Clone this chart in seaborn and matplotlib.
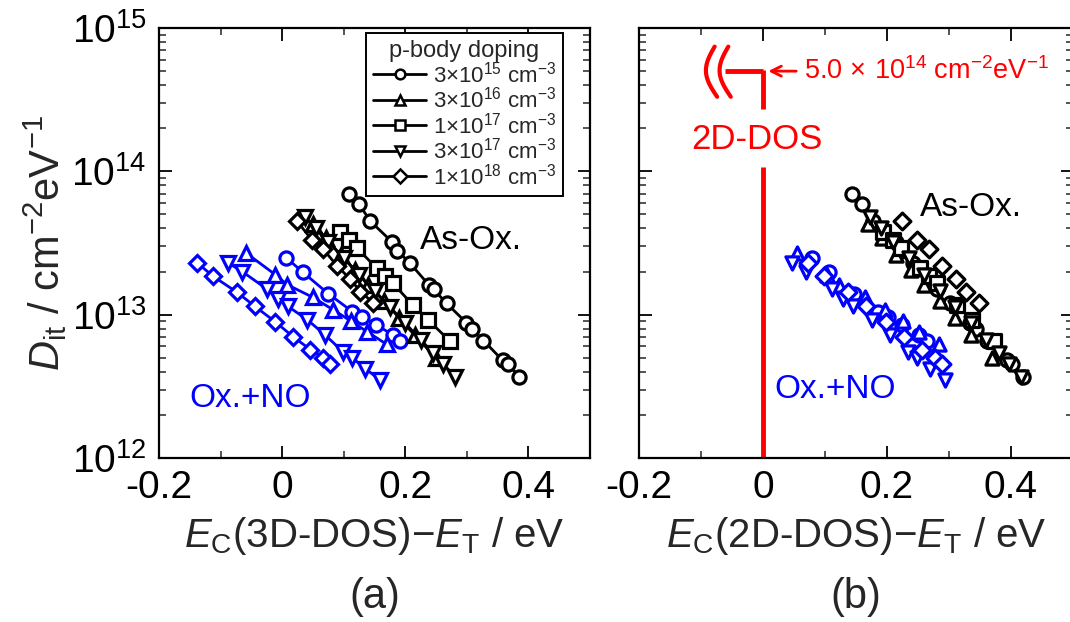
import numpy as np
import pandas as pd
import matplotlib.pyplot as plt
import seaborn as sns
from matplotlib.lines import Line2D

sns.set_theme(style='ticks')
plt.rcParams['font.family'] = ['Liberation Sans', 'DejaVu Sans']
plt.rcParams['mathtext.fontset'] = 'custom'
plt.rcParams['mathtext.rm'] = 'Liberation Sans'
plt.rcParams['mathtext.it'] = 'Liberation Sans:italic'
plt.rcParams['mathtext.bf'] = 'Liberation Sans:bold'

# p-body doping series (legend order)
doping_labels = [r'3$\times$10$^{15}$ cm$^{-3}$', r'3$\times$10$^{16}$ cm$^{-3}$',
                 r'1$\times$10$^{17}$ cm$^{-3}$', r'3$\times$10$^{17}$ cm$^{-3}$',
                 r'1$\times$10$^{18}$ cm$^{-3}$']
doping_markers = ['o', '^', 's', 'v', 'D']

# As-Ox. : E_C(3D-DOS)-E_T [eV] and Dit [cm-2 eV-1]
asox_3e15_x = [0.109, 0.125, 0.143, 0.179, 0.187, 0.207, 0.239, 0.246, 0.267, 0.299, 0.309, 0.327, 0.358, 0.367, 0.385]
asox_3e15_d = [6.9e13, 5.9e13, 4.5e13, 3.2e13, 2.8e13, 2.3e13, 1.6e13, 1.5e13, 1.2e13, 8.8e12, 7.9e12, 6.6e12, 4.8e12, 4.5e12, 3.7e12]
asox_3e16_x = [0.050, 0.072, 0.095, 0.118, 0.140, 0.165, 0.190, 0.215, 0.250]
asox_3e16_d = [4.3e13, 3.4e13, 2.6e13, 2.05e13, 1.6e13, 1.25e13, 9.5e12, 7.2e12, 5.0e12]
asox_1e17_x = [0.094, 0.109, 0.122, 0.154, 0.167, 0.180, 0.213, 0.237, 0.273]
asox_1e17_d = [3.8e13, 3.3e13, 2.9e13, 2.1e13, 1.87e13, 1.65e13, 1.16e13, 9.2e12, 6.5e12]
asox_3e17_x = [0.037, 0.055, 0.075, 0.100, 0.125, 0.150, 0.175, 0.200, 0.225, 0.245, 0.262, 0.281]
asox_3e17_d = [4.8e13, 4.0e13, 3.2e13, 2.5e13, 1.9e13, 1.47e13, 1.13e13, 8.7e12, 6.7e12, 5.4e12, 4.5e12, 3.7e12]
asox_1e18_x = [0.024, 0.049, 0.067, 0.089, 0.111, 0.127, 0.148]
asox_1e18_d = [4.5e13, 3.3e13, 2.85e13, 2.2e13, 1.76e13, 1.45e13, 1.21e13]

# Ox.+NO
no_3e15_x = [0.0065, 0.034, 0.075, 0.114, 0.130, 0.153, 0.180, 0.192]
no_3e15_d = [2.5e13, 1.97e13, 1.40e13, 1.05e13, 9.7e12, 8.5e12, 7.2e12, 6.6e12]
no_3e16_x = [-0.059, -0.011, 0.008, 0.050, 0.083, 0.112, 0.138, 0.170]
no_3e16_d = [2.7e13, 1.9e13, 1.62e13, 1.32e13, 1.08e13, 9.0e12, 7.6e12, 6.2e12]
no_3e17_x = [-0.088, -0.065, -0.024, -0.0065, 0.0098, 0.041, 0.070, 0.099, 0.114, 0.135, 0.159]
no_3e17_d = [2.3e13, 2.0e13, 1.5e13, 1.29e13, 1.14e13, 9.2e12, 7.2e12, 5.5e12, 5.0e12, 4.2e12, 3.5e12]
no_1e18_x = [-0.138, -0.112, -0.073, -0.044, -0.011, 0.018, 0.046, 0.067, 0.078]
no_1e18_d = [2.3e13, 1.85e13, 1.43e13, 1.14e13, 8.9e12, 7.0e12, 5.7e12, 5.0e12, 4.5e12]

# energy shift 3D-DOS -> 2D-DOS reference [eV]
asox_shift = [0.035, 0.12, 0.10, 0.135, 0.20]
no_shift = [0.072, 0.114, 0.135, 0.21]

dos2d_value = 5.0e14
xtick_vals = [-0.2, 0, 0.2, 0.4]
xtick_labels = ['-0.2', '0', '0.2', '0.4']

asox = [(asox_3e15_x, asox_3e15_d, 0), (asox_3e16_x, asox_3e16_d, 1), (asox_1e17_x, asox_1e17_d, 2),
        (asox_3e17_x, asox_3e17_d, 3), (asox_1e18_x, asox_1e18_d, 4)]
oxno = [(no_3e15_x, no_3e15_d, 0), (no_3e16_x, no_3e16_d, 1),
        (no_3e17_x, no_3e17_d, 3), (no_1e18_x, no_1e18_d, 4)]

fig = plt.figure(figsize=(10.7, 6.22), dpi=100)
ax_a = fig.add_axes([0.1486, 0.2637, 0.4028, 0.6913])
ax_b = fig.add_axes([0.5972, 0.2637, 0.4056, 0.6913])

ms, mew, lw = 9.5, 2.3, 2.0


def msize(m):
    return ms * (0.9 if m == 'D' else 1)


# (a) 3D-DOS, markers joined with lines
for series, color in [(oxno, 'blue'), (asox, 'black')]:
    for xs, ds, k in series:
        df = pd.DataFrame({'x': xs, 'dit': ds})
        sns.lineplot(data=df, x='x', y='dit', ax=ax_a, color=color, marker=doping_markers[k],
                     markersize=msize(doping_markers[k]), markerfacecolor='white',
                     markeredgecolor=color, markeredgewidth=mew, linewidth=lw,
                     sort=False, estimator=None)

# (b) 2D-DOS, markers only
for series, shifts, color in [(oxno, no_shift, 'blue'), (asox, asox_shift, 'black')]:
    for (xs, ds, k), sh in zip(series, shifts):
        df = pd.DataFrame({'x': np.array(xs) + sh, 'dit': ds})
        sns.scatterplot(data=df, x='x', y='dit', ax=ax_b, marker=doping_markers[k],
                        s=msize(doping_markers[k]) ** 2,
                        facecolors='white', edgecolors=color, linewidth=mew, zorder=3)

for ax in (ax_a, ax_b):
    ax.set_yscale('log')
    ax.set_ylim(1e12, 1e15)
    ax.set_xlim(-0.2, 0.5)
    ax.set_xticks(xtick_vals)
    ax.set_xticklabels(xtick_labels)
    ax.set_xticks([-0.1, 0.1, 0.3], minor=True)
    ax.tick_params(which='major', direction='in', length=9, width=1.3, top=True, right=True,
                   labelsize=28, pad=9, colors='black')
    ax.tick_params(which='minor', direction='in', length=5, width=1.1, top=True, right=True)
    for sp in ax.spines.values():
        sp.set_linewidth(1.6)
        sp.set_color('black')
    ax.set_ylabel('')
    ax.grid(False)

ax_b.tick_params(axis='y', which='both', labelleft=False)

ax_a.set_ylabel(r'$D_{\rm it}$ / cm$^{-2}$eV$^{-1}$', fontsize=30, labelpad=2)
ax_a.set_xlabel(r'$E_{\rm C}$(3D-DOS)$-$$E_{\rm T}$ / eV', fontsize=29, labelpad=6)
ax_b.set_xlabel(r'$E_{\rm C}$(2D-DOS)$-$$E_{\rm T}$ / eV', fontsize=29, labelpad=6)

fig.text(0.350, 0.008, '(a)', fontsize=30, ha='center', va='bottom')
fig.text(0.800, 0.008, '(b)', fontsize=30, ha='center', va='bottom')

# labels inside panels
ax_a.text(0.224, 3.3e13, 'As-Ox.', fontsize=24, ha='left', va='center', color='black')
ax_a.text(-0.15, 2.6e12, 'Ox.+NO', fontsize=24, ha='left', va='center', color='blue')
ax_b.text(0.253, 5.6e13, 'As-Ox.', fontsize=24, ha='left', va='center', color='black')
ax_b.text(0.019, 3.0e12, 'Ox.+NO', fontsize=24, ha='left', va='center', color='blue')

# legend
handles = [Line2D([], [], color='black', marker=m, markersize=7, markerfacecolor='white',
                  markeredgewidth=1.8, linewidth=2) for m in doping_markers]
leg = ax_a.legend(handles, doping_labels, title='p-body doping', loc='upper right',
                  bbox_to_anchor=(0.937, 0.988), fontsize=16, title_fontsize=17,
                  frameon=True, fancybox=False, edgecolor='black', framealpha=1,
                  handlelength=2.4, handletextpad=0.3, labelspacing=-0.02, borderpad=0.3,
                  borderaxespad=0)
leg.get_frame().set_linewidth(1.4)

# 2D-DOS step in (b)
red = '#ff0000'
ax_b.plot([-0.061, 0.0], [dos2d_value, dos2d_value], color=red, lw=3.5, solid_capstyle='butt')
ax_b.plot([0.0, 0.0], [dos2d_value * 1.02, 2.7e14], color=red, lw=3.5, solid_capstyle='butt')
ax_b.plot([0.0, 0.0], [1.07e14, 1e12], color=red, lw=3.5, solid_capstyle='butt')
t = np.linspace(0, 1, 40)
ywave = 10 ** (14.87 - 0.35 * t)
for x0 in (-0.088, -0.066):
    ax_b.plot(x0 + 0.010 - 0.016 * np.sin(np.pi * t) + 0.004 * t, ywave, color=red, lw=3)
ax_b.text(-0.01, 1.66e14, '2D-DOS', fontsize=25, ha='center', va='center', color=red)
ax_b.annotate('', xy=(0.004, dos2d_value), xytext=(0.058, dos2d_value),
              arrowprops=dict(arrowstyle='->', color=red, lw=2, mutation_scale=18))
ax_b.text(0.066, dos2d_value, r'5.0$\,\times\,$10$^{14}$ cm$^{-2}$eV$^{-1}$', fontsize=19.5,
          ha='left', va='center', color=red)

fig.savefig('out.png', dpi=100)
